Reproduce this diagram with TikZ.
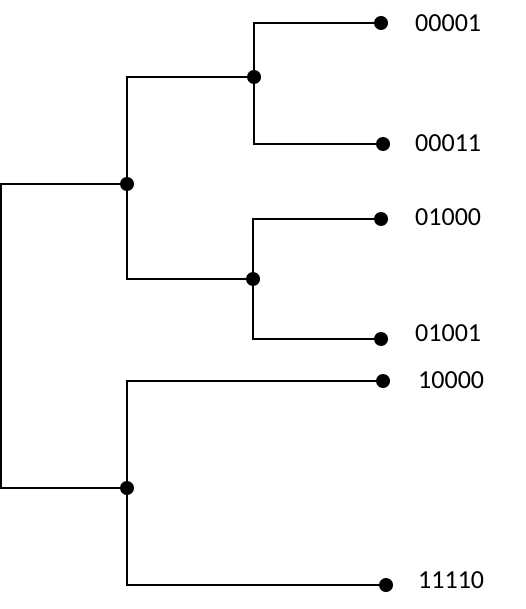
\documentclass[tikz,border=0pt]{standalone}
\usepackage{fontspec}
\setmainfont{Carlito}
\tikzset{
  dot/.style={circle,fill=black,inner sep=0pt,minimum size=14pt},
  branch/.style={line width=1.2pt},
  code/.style={font=\fontsize{26}{30}\selectfont,anchor=west,inner sep=0pt}
}

\begin{document}
\begin{tikzpicture}[x=1pt,y=-1pt]
    \useasboundingbox (0,0) rectangle (526,609);
    % root (no dot), halfway down the left edge
    \coordinate (root) at (1,336);
    % inner nodes
    \node[dot] (a) at (127,184) {};
    \node[dot] (b) at (254,77) {};
    \node[dot] (c) at (253,279) {};
    \node[dot] (d) at (127,488) {};
    % leaves
    \node[dot] (l1) at (381,23) {};
    \node[dot] (l2) at (383,144) {};
    \node[dot] (l3) at (381,219) {};
    \node[dot] (l4) at (381,339) {};
    \node[dot] (l5) at (383,381) {};
    \node[dot] (l6) at (386,585) {};
    % branches
    \draw[branch] (a.center) -| (root) |- (d.center);
    \draw[branch] (a.center) |- (b.center);
    \draw[branch] (a.center) |- (c.center);
    \draw[branch] (b.center) |- (l1.center);
    \draw[branch] (b.center) |- (l2.center);
    \draw[branch] (c.center) |- (l3.center);
    \draw[branch] (c.center) |- (l4.center);
    \draw[branch] (d.center) |- (l5.center);
    \draw[branch] (d.center) |- (l6.center);
    % leaf codes
    \node[code] (t1) at (415,23) {00001};
    \node[code] (t2) at (415,143.5) {00011};
    \node[code] (t3) at (415,217.5) {01000};
    \node[code] (t4) at (415,333) {01001};
    \node[code] (t5) at (418,380.5) {10000};
    \node[code] (t6) at (418,580.5) {11110};
\end{tikzpicture}
\end{document}
